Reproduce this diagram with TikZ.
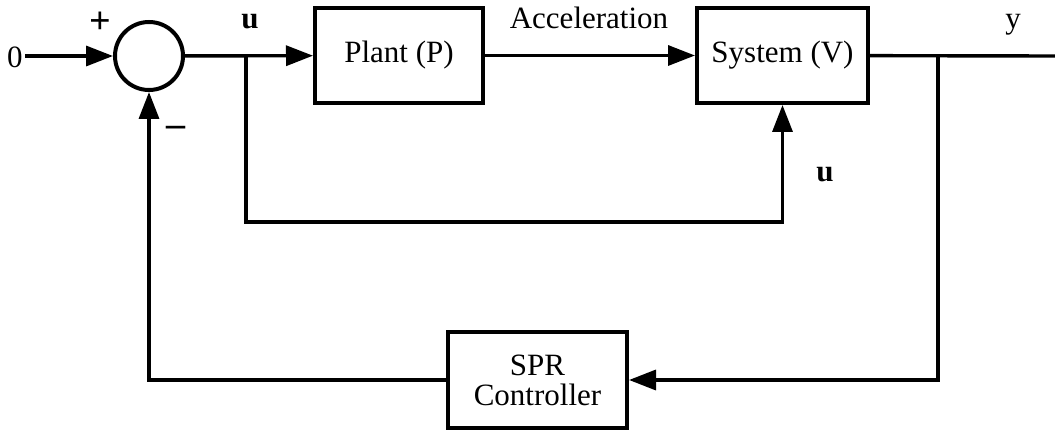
\documentclass[tikz,border=0pt]{standalone}
\usepackage{fontspec}
\setmainfont{Liberation Serif}
\usepackage{xcolor}
\usepackage{tikz}
\usetikzlibrary{arrows.meta, positioning, calc}
\definecolor{LoopInk}{RGB}{0, 0, 0}

\begin{document}
\begin{tikzpicture}[x=0.5pt,y=0.5pt,
    font=\rmfamily\fontsize{15.5}{15}\selectfont,
    line width=1.7pt, draw=LoopInk,
    sig/.style={-{Triangle[length=13.5pt,width=10pt]}},
    blockbox/.style={draw=LoopInk, line width=2pt, minimum height=47.5pt, inner sep=0pt, align=center},
    sumnode/.style={draw=LoopInk, line width=2pt, circle, minimum size=34pt, inner sep=0pt}]
  \path[use as bounding box] (0,0) rectangle (1055,429);
  % blocks
  \node[sumnode] (sum) at (149,373) {};
  \node[blockbox, minimum width=84pt] (plant) at (399,373.5) {Plant (P)};
  \node[blockbox, minimum width=85.5pt] (sys) at (782.5,373.5) {System (V)};
  \node[blockbox, minimum width=89.5pt, minimum height=48pt] (spr) at (537.5,49) {\rmfamily SPR\\\rmfamily Controller};
  % branch points
  \coordinate (in) at (25,373);
  \coordinate (out) at (1055,373);
  \coordinate (ubranch) at (246,373);
  \coordinate (ulow) at (246,207);
  \coordinate (ybranch) at (938,373);
  % signals
  \draw[sig] (in) -- (sum);
  \draw[sig] (sum) -- (plant);
  \draw[sig] (plant) -- (sys);
  \draw (sys) -- (out);
  \draw[sig] (ubranch) -- (ulow) -| (sys.south);
  \draw[sig] (ybranch) |- (spr);
  \draw[sig] (spr) -| (sum);
  % labels
  \node (zero) at (15,372) {0};
  \node (plus) at (100,406) {\fontsize{19}{19}\selectfont\bfseries +};
  \node (minus) at (176,298) {\fontsize{19}{19}\selectfont\bfseries --};
  \node (uin) at (250,407) {\bfseries u};
  \node (accel) at (589,411) {Acceleration};
  \node (yout) at (1013,404) {y};
  \node (uside) at (825,254) {\bfseries u};
\end{tikzpicture}
\end{document}
